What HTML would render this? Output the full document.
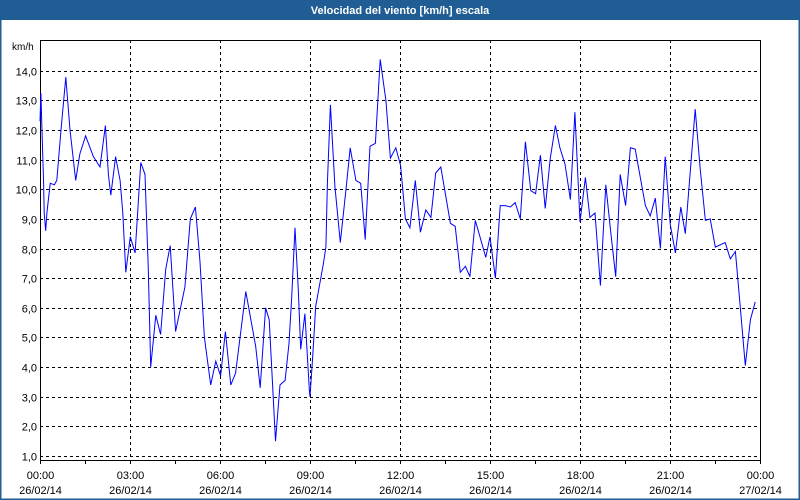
<!DOCTYPE html>
<html><head><meta charset="utf-8"><style>
html,body{margin:0;padding:0;background:#fff;}
#wrap{position:relative;width:800px;height:500px;overflow:hidden;font-family:"Liberation Sans",sans-serif;}
</style></head><body>
<div id="wrap">
<svg id="chart" width="800" height="500" xmlns="http://www.w3.org/2000/svg">
<rect x="0" y="0" width="800" height="500" fill="#ffffff" stroke="#1f5d94" stroke-width="3"/>
<rect x="0" y="0" width="800" height="20" fill="#1f5d94"/>
<text x="400" y="14" text-anchor="middle" fill="#fff" font-size="11" font-weight="bold">Velocidad del viento [km/h] escala</text>
<text x="12" y="50" font-size="10" fill="#000">km/h</text>
<g id="grid"></g>
<g id="axes"></g>
<g id="series"></g>
</svg>
</div>
<script>
const hours = [0.0,0.03,0.06,0.12,0.14,0.19,0.23,0.34,0.48,0.56,0.70,0.86,1.00,1.19,1.33,1.52,1.78,2.00,2.18,2.28,2.36,2.52,2.67,2.76,2.86,3.01,3.17,3.36,3.50,3.61,3.69,3.86,4.02,4.19,4.34,4.52,4.83,5.01,5.18,5.33,5.48,5.69,5.86,6.02,6.18,6.36,6.52,6.86,7.19,7.34,7.52,7.64,7.85,8.00,8.17,8.30,8.39,8.50,8.61,8.69,8.83,8.98,9.00,9.09,9.19,9.44,9.53,9.58,9.68,9.83,10.01,10.20,10.34,10.53,10.69,10.84,11.00,11.18,11.34,11.53,11.68,11.86,12.02,12.18,12.33,12.51,12.68,12.86,13.03,13.19,13.36,13.68,13.84,14.01,14.18,14.33,14.51,14.86,15.00,15.18,15.34,15.51,15.68,15.84,16.01,16.18,16.36,16.52,16.68,16.84,17.01,17.18,17.33,17.50,17.68,17.83,18.00,18.18,18.33,18.50,18.68,18.86,19.02,19.19,19.34,19.52,19.68,19.84,20.18,20.34,20.51,20.68,20.84,21.01,21.18,21.36,21.51,21.68,21.84,22.01,22.18,22.34,22.51,22.84,23.01,23.18,23.34,23.51,23.68,23.84];
const speeds = [12.3,13.24,12.2,10.2,9.2,8.6,9.2,10.2,10.15,10.3,12.0,13.78,12.0,10.3,11.2,11.8,11.1,10.75,12.15,10.5,9.8,11.1,10.3,9.2,7.2,8.4,7.85,10.9,10.5,7.3,4.0,5.75,5.1,7.3,8.1,5.2,6.7,9.0,9.4,7.6,5.0,3.4,4.2,3.7,5.2,3.4,3.8,6.55,4.7,3.3,6.0,5.6,1.5,3.4,3.55,4.8,6.35,8.7,6.6,4.6,5.8,3.2,3.0,4.35,6.05,7.45,8.05,10.2,12.85,10.1,8.2,10.0,11.4,10.3,10.2,8.3,11.45,11.55,14.38,13.0,11.05,11.4,10.8,9.0,8.7,10.3,8.55,9.3,9.05,10.55,10.75,8.85,8.75,7.2,7.4,7.05,8.95,7.7,8.4,7.0,9.45,9.45,9.4,9.55,9.0,11.6,9.95,9.85,11.15,9.35,11.05,12.15,11.4,10.85,9.65,12.6,8.9,10.4,9.05,9.2,6.75,10.15,8.6,7.05,10.5,9.45,11.4,11.35,9.45,9.1,9.7,8.0,11.1,8.8,7.85,9.4,8.5,10.65,12.7,10.65,8.95,9.0,8.05,8.2,7.65,7.9,6.05,4.05,5.6,6.2];
const yTicks = [1,2,3,4,5,6,7,8,9,10,11,12,13,14];
const xTickHours = [0,3,6,9,12,15,18,21,24];
const xTimeLabels = ["00:00","03:00","06:00","09:00","12:00","15:00","18:00","21:00","00:00"];
const xDateLabels = ["26/02/14","26/02/14","26/02/14","26/02/14","26/02/14","26/02/14","26/02/14","26/02/14","27/02/14"];

const L=40,R=760,T=40,B=460;
const xs = h => L + (R-L)*h/24;
const ys = v => 70.7 + (14-v)*29.64;
const NS="http://www.w3.org/2000/svg";
function mk(tag,attrs,parent){const e=document.createElementNS(NS,tag);for(const k in attrs)e.setAttribute(k,attrs[k]);parent.appendChild(e);return e;}
const grid=document.getElementById('grid'),axes=document.getElementById('axes'),series=document.getElementById('series');

yTicks.forEach(v=>{
  const y=Math.round(ys(v))+0.5;
  const g=mk('line',{x1:L,x2:R,y1:y,y2:y,stroke:'#000','stroke-width':1,'stroke-dasharray':'3,3'},grid);
  
  
  const t=mk('text',{x:37,y:y+4,'text-anchor':'end','font-size':11,fill:'#000'},axes);
  t.textContent=v.toFixed(1).replace('.',',');
  
  
});
xTickHours.forEach((h,i)=>{
  const x=Math.round(xs(h))+0.5;
  if(i>0&&i<xTickHours.length-1){
    const g=mk('line',{x1:x,x2:x,y1:T,y2:B,stroke:'#000','stroke-width':1,'stroke-dasharray':'3,3'},grid);
    
    
  }
  const t1=mk('text',{x:x,y:479,'text-anchor':'middle','font-size':11,fill:'#000'},axes);
  t1.textContent=xTimeLabels[i];
  
  
  const t2=mk('text',{x:x,y:494,'text-anchor':'middle','font-size':11,fill:'#000'},axes);
  t2.textContent=xDateLabels[i];
  
  
});
for(let h=0;h<=24;h+=1.5){
  const x=Math.round(xs(h))+0.5;
  const tk=mk('line',{x1:x,x2:x,y1:B,y2:B+4,stroke:'#000','stroke-width':1},axes);
  
  
}
const frame=mk('rect',{x:L+0.5,y:T+0.5,width:R-L,height:B-T,fill:'none',stroke:'#000','stroke-width':1},axes);



const pts=hours.map((h,i)=>xs(h).toFixed(1)+','+ys(speeds[i]).toFixed(1)).join(' ');
const line=mk('polyline',{points:pts,fill:'none',stroke:'#0000ff','stroke-width':1},series);


</script>
</body></html>
